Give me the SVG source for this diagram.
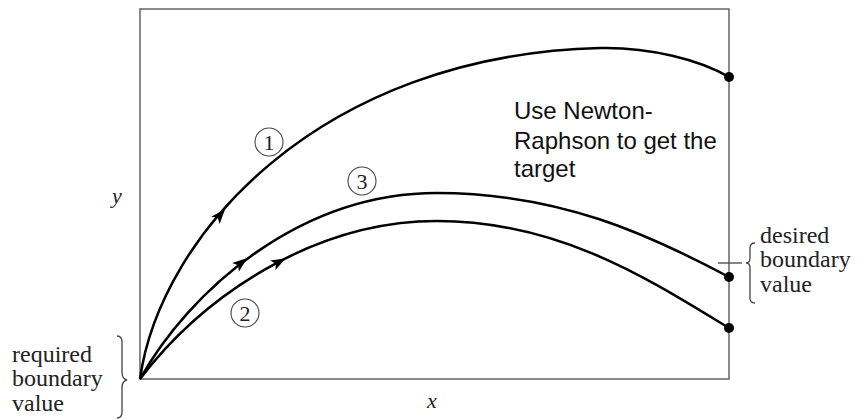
<svg xmlns="http://www.w3.org/2000/svg" width="864" height="420" viewBox="0 0 864 420">
<defs>
<style>
.frame{fill:none;stroke:#666;stroke-width:1.5}
.curve{fill:none;stroke:#000;stroke-width:2.5}
.serif{font-family:"Liberation Serif","Times New Roman",serif;fill:#222}
.sans{font-family:"Liberation Sans",Arial,sans-serif;fill:#111;font-size:24px}
.lab{font-size:24px}
.circ{fill:none;stroke:#444;stroke-width:1.1}
.num{font-size:22px;text-anchor:middle}
.brace{fill:none;stroke:#444;stroke-width:1.3}
.dot{fill:#000}
</style>
<path id="ah" d="M8,0 L-7,-5.5 L-3.5,0 L-7,5.5 Z" fill="#000"/>
</defs>
<g id="frame">
<rect class="frame" x="140" y="9" width="589" height="370"/>
</g>
<g id="connectors">
<path id="curve1" class="curve" d="M140,379 C160,235 320,55 600,48 C650,47 700,60 729,77"/>
<path id="curve3" class="curve" d="M140,379 C190,290 300,193 437,193 C560,193 650,235 729,277"/>
<path id="curve2" class="curve" d="M140,379 C200,300 310,221 437,221 C560,221 650,280 729,328"/>
<use href="#ah" transform="translate(220,215) rotate(-49.6)"/>
<use href="#ah" transform="translate(241,263) rotate(-37.6)"/>
<use href="#ah" transform="translate(279,262) rotate(-27.7)"/>
</g>
<g id="dots">
<circle class="dot" cx="729" cy="77" r="5"/>
<circle class="dot" cx="729" cy="277" r="5"/>
<circle class="dot" cx="729" cy="328" r="5"/>
</g>
<g id="label1">
<circle class="circ" cx="269" cy="142" r="14"/>
<text class="serif num" x="269" y="150">1</text>
</g>
<g id="label3">
<circle class="circ" cx="362" cy="181" r="14"/>
<text class="serif num" x="362" y="189">3</text>
</g>
<g id="label2">
<circle class="circ" cx="245" cy="313" r="14"/>
<text class="serif num" x="245" y="321">2</text>
</g>
<g id="note">
<text class="sans" x="514" y="119">Use Newton-</text>
<text class="sans" x="514" y="149">Raphson to get the</text>
<text class="sans" x="514" y="177">target</text>
</g>
<g id="axes">
<text class="serif" x="112" y="203" font-size="22" font-style="italic">y</text>
<text class="serif" x="427" y="408" font-size="22" font-style="italic">x</text>
</g>
<g id="required">
<path class="brace" d="M117,336 Q122,336 122,342 L122,372 Q122,379 127,380 Q122,381 122,388 L122,412 Q122,418 117,418"/>
<text class="serif lab" x="12" y="362">required</text>
<text class="serif lab" x="12" y="386">boundary</text>
<text class="serif lab" x="12" y="411">value</text>
</g>
<g id="desired">
<line x1="718" y1="263" x2="742" y2="263" stroke="#444" stroke-width="1.3"/>
<path class="brace" d="M755,243 Q750,243 750,248 L750,258 Q750,263 746,263 Q750,263 750,268 L750,298 Q750,303 755,303"/>
<text class="serif lab" x="760" y="243">desired</text>
<text class="serif lab" x="760" y="267">boundary</text>
<text class="serif lab" x="760" y="292">value</text>
</g>
</svg>
